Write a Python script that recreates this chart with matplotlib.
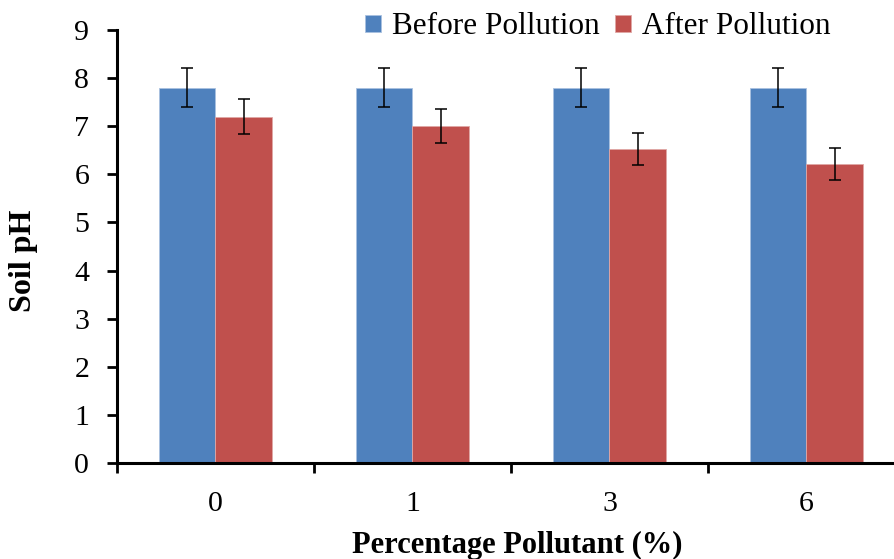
import matplotlib.pyplot as plt
import numpy as np

plt.rcParams['font.family'] = ['Liberation Serif', 'DejaVu Serif']

categories = ['0', '1', '3', '6']
before = [7.8, 7.8, 7.8, 7.8]
before_err = [0.4, 0.4, 0.4, 0.4]
after = [7.2, 7.0, 6.52, 6.22]
after_err = [0.37, 0.35, 0.33, 0.33]

blue = '#4F81BD'
red = '#C0504D'

fig = plt.figure(figsize=(8.95, 5.59), dpi=100)
ax = fig.add_axes([117/895, 1-463/559, 788/895, 433/559])

x = np.arange(len(categories))
w = 0.287
ax.bar(x - w/2, before, w, color=blue, edgecolor='#a9c1e0', linewidth=0.6,
       label='Before Pollution', zorder=2)
ax.bar(x + w/2, after, w, color=red, edgecolor='#e0a8a6', linewidth=0.6,
       label='After Pollution', zorder=2)
ax.errorbar(x - w/2, before, yerr=before_err, fmt='none', ecolor='black',
            elinewidth=1.1, capsize=4.5, capthick=1.1, zorder=3)
ax.errorbar(x + w/2, after, yerr=after_err, fmt='none', ecolor='black',
            elinewidth=1.1, capsize=4.5, capthick=1.1, zorder=3)

ax.set_xlim(-0.5, len(categories) - 0.5)
ax.set_ylim(0, 9)
ax.set_yticks(range(0, 10))
ax.set_xticks(x)
ax.set_xticklabels(categories)
ax.set_xticks(np.arange(-0.5, len(categories), 1), minor=True)
ax.tick_params(axis='x', which='major', length=0, pad=20, labelsize=21.5)
ax.tick_params(axis='x', which='minor', length=7, width=2, direction='out')
ax.tick_params(axis='y', length=7, width=2, direction='out', labelsize=21.5, pad=13)

for s in ['top', 'right']:
    ax.spines[s].set_visible(False)
for s in ['left', 'bottom']:
    ax.spines[s].set_linewidth(2.2)

ax.set_ylabel('Soil pH', fontsize=23, fontweight='bold')
ax.yaxis.set_label_coords((38 - 117) / 788, (463 - 261) / 433)
ax.set_xlabel('Percentage Pollutant (%)', fontsize=22, fontweight='bold')
ax.xaxis.label.set_va('baseline')
ax.xaxis.set_label_coords((517 - 117) / 788, (463 - 553) / 433)

fig.legend(loc='center', bbox_to_anchor=(598/895, 1-27/559), ncol=2, frameon=False,
           fontsize=22.5, handlelength=0.5, handleheight=0.5, handletextpad=0.35,
           columnspacing=0.5, borderpad=0)

fig.savefig('out.png', dpi=100)
